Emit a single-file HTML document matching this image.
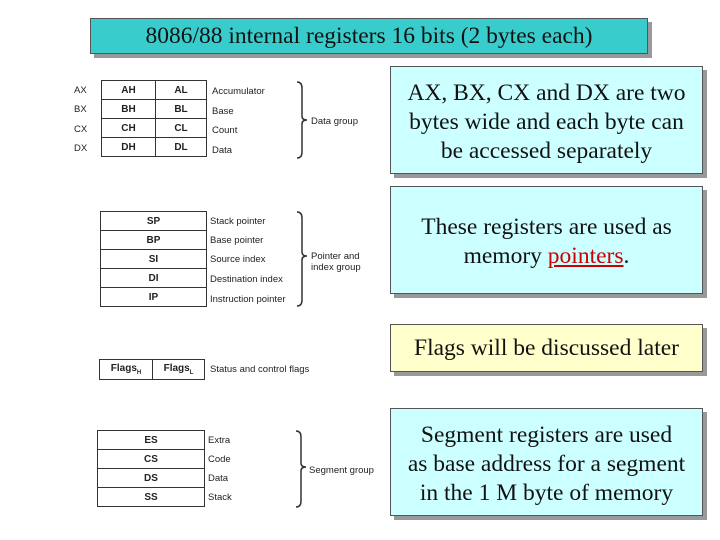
<!DOCTYPE html>
<html><head><meta charset="utf-8"><style>
body{margin:0;width:720px;height:540px;background:#fff;position:relative;overflow:hidden;font-family:"Liberation Sans",sans-serif}
.b{position:absolute;border:1px solid #555;box-shadow:4px 4px 0 #999;font-family:"Liberation Serif",serif;color:#111;text-align:center;font-size:23.5px;line-height:29px;box-sizing:border-box;white-space:nowrap}
.t{position:absolute;border-collapse:collapse;font-size:10px;color:#222;font-weight:bold}
.t td{border:1.5px solid #333;text-align:center;padding:0;height:18px}
.l{position:absolute;font-size:9.5px;color:#222;white-space:nowrap}
svg{position:absolute;left:0;top:0}
</style></head><body>
<div class="b" style="left:90px;top:18px;width:558px;height:36px;background:#38cccc;line-height:34px">8086/88 internal registers 16 bits (2 bytes each)</div>
<div class="b" style="left:390px;top:66px;width:313px;height:108px;background:#ccffff;padding-top:12px">AX, BX, CX and DX are two<br>bytes wide and each byte can<br>be accessed separately</div>
<div class="b" style="left:390px;top:186px;width:313px;height:108px;background:#ccffff;padding-top:26px">These registers are used as<br>memory <span style="color:#c00;text-decoration:underline">pointers</span>.</div>
<div class="b" style="left:390px;top:324px;width:313px;height:48px;background:#ffffcc;padding-top:9px">Flags will be discussed later</div>
<div class="b" style="left:390px;top:408px;width:313px;height:108px;background:#ccffff;padding-top:12px">Segment registers are used<br>as base address for a segment<br>in the 1 M byte of memory</div>

<div class="l" style="left:74px;top:85px">AX</div><div class="l" style="left:74px;top:104px">BX</div><div class="l" style="left:74px;top:124px">CX</div><div class="l" style="left:74px;top:143px">DX</div>
<table class="t" style="left:101px;top:80px;width:106px"><tr><td style="width:53px">AH</td><td>AL</td></tr><tr><td>BH</td><td>BL</td></tr><tr><td>CH</td><td>CL</td></tr><tr><td>DH</td><td>DL</td></tr></table>
<div class="l" style="left:212px;top:86px">Accumulator</div><div class="l" style="left:212px;top:106px">Base</div><div class="l" style="left:212px;top:125px">Count</div><div class="l" style="left:212px;top:145px">Data</div>
<div class="l" style="left:311px;top:116px">Data group</div>

<table class="t" style="left:100px;top:211px;width:107px"><tr><td>SP</td></tr><tr><td>BP</td></tr><tr><td>SI</td></tr><tr><td>DI</td></tr><tr><td>IP</td></tr></table>
<div class="l" style="left:210px;top:216px">Stack pointer</div><div class="l" style="left:210px;top:235px">Base pointer</div><div class="l" style="left:210px;top:254px">Source index</div><div class="l" style="left:210px;top:274px">Destination index</div><div class="l" style="left:210px;top:294px">Instruction pointer</div>
<div class="l" style="left:311px;top:251px;line-height:11px">Pointer and<br>index group</div>

<table class="t" style="left:99px;top:359px;width:106px"><tr><td style="width:52px;height:19px">Flags<sub style="font-size:6px">H</sub></td><td>Flags<sub style="font-size:6px">L</sub></td></tr></table>
<div class="l" style="left:210px;top:364px">Status and control flags</div>

<table class="t" style="left:97px;top:430px;width:108px"><tr><td>ES</td></tr><tr><td>CS</td></tr><tr><td>DS</td></tr><tr><td>SS</td></tr></table>
<div class="l" style="left:208px;top:435px">Extra</div><div class="l" style="left:208px;top:454px">Code</div><div class="l" style="left:208px;top:473px">Data</div><div class="l" style="left:208px;top:492px">Stack</div>
<div class="l" style="left:309px;top:465px">Segment group</div>

<svg width="720" height="540" fill="none" stroke="#333" stroke-width="1.5">
<path d="M297 82 q5 0 5 6 v28 q0 4 5 4 q-5 0 -5 4 v28 q0 6 -5 6"/>
<path d="M297 212 q5 0 5 6 v34 q0 4 5 4 q-5 0 -5 4 v40 q0 6 -5 6"/>
<path d="M296 431 q5 0 5 6 v26 q0 4 5 4 q-5 0 -5 4 v30 q0 6 -5 6"/>
</svg>
</body></html>
